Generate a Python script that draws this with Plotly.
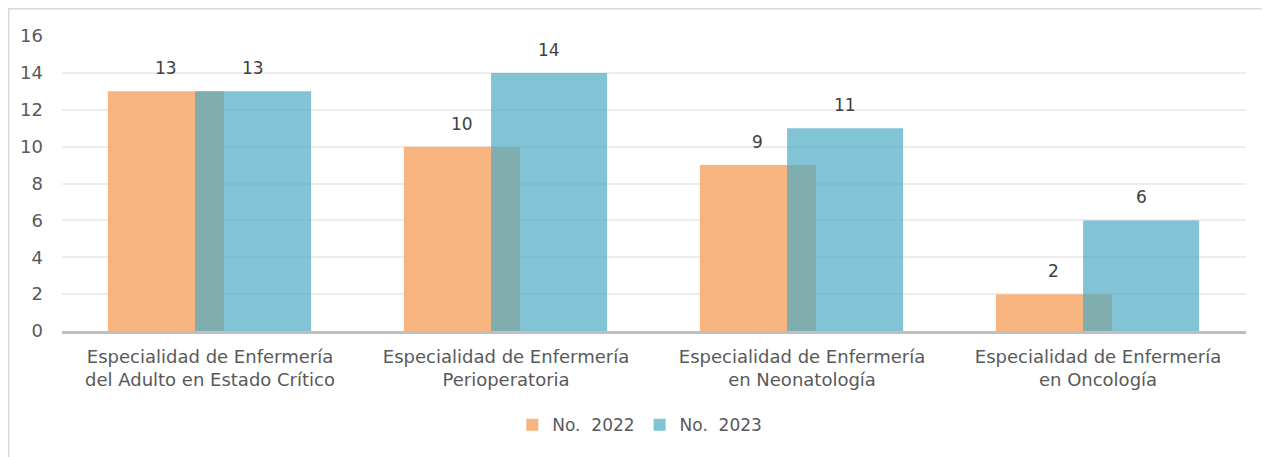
import plotly.graph_objects as go

categorias = [
    "Especialidad de Enfermería<br>del Adulto en Estado Crítico",
    "Especialidad de Enfermería<br>Perioperatoria",
    "Especialidad de Enfermería<br>en Neonatología",
    "Especialidad de Enfermería<br>en Oncología",
]
no_2022 = [13, 10, 9, 2]
no_2023 = [13, 14, 11, 6]
series = ["No.  2022", "No.  2023"]

idx = list(range(len(categorias)))
FONT = "DejaVu Sans"
ancho = 0.392
desfases = [-0.345, -0.0504]
colores = ["#F8B47E", "rgba(74,170,194,0.69)"]

fig = go.Figure()
for nombre, vals, off, col in zip(series, [no_2022, no_2023], desfases, colores):
    fig.add_trace(go.Bar(
        x=idx, y=vals, name=nombre, width=ancho, offset=off,
        marker=dict(color=col, line=dict(width=0)),
    ))
    for i, v in zip(idx, vals):
        fig.add_annotation(
            x=i + off + ancho / 2, y=v, text=str(v), showarrow=False,
            yanchor="middle", yshift=23,
            font=dict(family=FONT, size=17, color="#404040"),
        )

# the page adds an 8px body margin, so the figure is a bit smaller
fig.update_layout(
    width=1262, height=449,
    margin=dict(l=54, r=24, t=28, b=126),
    paper_bgcolor="white", plot_bgcolor="white",
    barmode="overlay",
    font=dict(family=FONT, size=17, color="#595959"),
    showlegend=True,
    legend=dict(orientation="h", x=0.488, xanchor="center", y=-0.319, yanchor="middle",
                font=dict(family=FONT, size=17, color="#595959"), traceorder="normal",
                itemwidth=30),
    xaxis=dict(
        range=[-0.5, 3.5], tickvals=idx, ticktext=categorias,
        showgrid=False, zeroline=False,
        showline=True, linecolor="#BFBFBF", linewidth=3,
        ticks="", ticklabelstandoff=7,
        tickfont=dict(family=FONT, size=18, color="#595959"),
    ),
    yaxis=dict(
        range=[0, 16], dtick=2, showgrid=True, gridcolor="#EDEDED", gridwidth=2,
        zeroline=False, showline=False, ticks="", ticklabelstandoff=18,
        tickfont=dict(family=FONT, size=18, color="#595959"),
    ),
    shapes=[dict(
        type="rect", xref="paper", yref="paper",
        x0=-54 / 1184, x1=1.03, y0=-0.45, y1=(295 + 28) / 295,
        line=dict(color="#D9D9D9", width=3), fillcolor="rgba(0,0,0,0)", layer="below",
    )],
)

fig.write_html("out.html")
